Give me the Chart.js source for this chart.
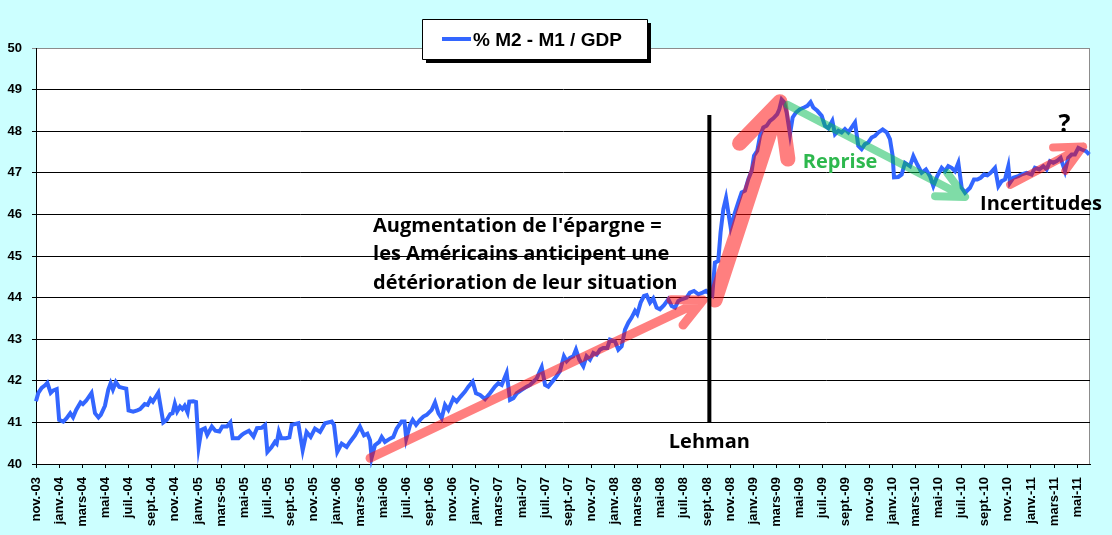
<!DOCTYPE html>
<html>
<head>
<meta charset="utf-8">
<script src="https://cdn.jsdelivr.net/npm/chart.js@4.4.1/dist/chart.umd.min.js"></script>
<style>
  body { margin: 0; background: #ccffff; }
  canvas { display: block; }
</style>
</head>
<body>
<canvas id="graph" width="1112" height="535"></canvas>
<script>
// mois écoulés depuis nov. 2003 (0 = nov.-03)
const mois = [
  0, 0.2, 0.49, 0.78, 0.98, 1.27, 1.5, 1.79, 2, 2.36,
  2.65, 2.96, 3.2, 3.47, 3.85, 4.05, 4.33, 4.8, 5.1, 5.4,
  5.6, 5.96, 6.25, 6.45, 6.65, 6.9, 7.2, 7.5, 7.8, 8,
  8.4, 8.75, 9, 9.4, 9.65, 9.9, 10.1, 10.57, 11, 11.3,
  11.6, 11.8, 12, 12.2, 12.45, 12.65, 12.85, 13.1, 13.25, 13.6,
  13.83, 14.06, 14.3, 14.6, 14.8, 15.2, 15.5, 15.85, 16.1, 16.5,
  16.8, 17, 17.5, 17.8, 18, 18.4, 18.8, 19.1, 19.5, 19.8,
  20, 20.35, 20.65, 20.8, 20.99, 21.2, 21.6, 21.9, 22.1, 22.67,
  23.05, 23.39, 23.74, 24.11, 24.55, 24.98, 25.56, 25.76, 26.04, 26.42,
  26.85, 27.14, 27.57, 28, 28.35, 28.64, 28.87, 29.01, 29.3, 29.67,
  29.88, 30.16, 30.6, 30.88, 31.17, 31.6, 31.85, 32, 32.33, 32.56,
  32.85, 33.19, 33.48, 33.77, 34.2, 34.49, 34.78, 35.06, 35.35, 35.64,
  36.07, 36.36, 36.7, 37.08, 37.37, 37.74, 38.03, 38.38, 38.81, 39.24,
  39.67, 39.96, 40.25, 40.68, 40.97, 41.26, 41.55, 41.98, 42.41, 42.7,
  43.28, 43.71, 44, 44.28, 44.86, 45.29, 45.63, 45.87, 46.15, 46.44,
  46.67, 46.96, 47.31, 47.59, 47.88, 48.17, 48.46, 48.75, 49.03, 49.38,
  49.61, 50.04, 50.33, 50.62, 50.91, 51.2, 51.48, 51.77, 51.97, 52.26,
  52.55, 52.78, 53.07, 53.35, 53.64, 53.93, 54.28, 54.65, 54.94, 55.23,
  55.52, 55.8, 56.24, 56.52, 56.87, 57.25, 57.62, 57.91, 58.2, 58.45,
  58.68, 58.97, 59.17, 59.41, 59.64, 60.04, 60.42, 60.7, 60.99, 61.28,
  61.57, 61.86, 62.06, 62.34, 62.58, 62.86, 63.15, 63.44, 63.73, 64.07,
  64.25, 64.45, 64.65, 64.88, 65.17, 65.4, 65.69, 66.03, 66.38, 66.67,
  66.95, 67.18, 67.53, 67.91, 68.19, 68.48, 68.83, 69.06, 69.35, 69.63,
  69.92, 70.21, 70.5, 70.79, 71.07, 71.36, 71.65, 71.94, 72.23, 72.52,
  72.81, 73.18, 73.53, 73.81, 74.04, 74.16, 74.53, 74.82, 75.11, 75.54,
  75.83, 76.17, 76.55, 76.92, 77.27, 77.56, 77.9, 78.28, 78.57, 78.85,
  79.14, 79.43, 79.72, 80.01, 80.3, 80.73, 81.07, 81.36, 81.65, 81.94,
  82.23, 82.51, 82.89, 83.18, 83.46, 83.75, 84.04, 84.18, 84.47, 84.9,
  85.19, 85.62, 86.05, 86.34, 86.72, 87.06, 87.35, 87.64, 87.93, 88.22,
  88.56, 88.94, 89.22, 89.51, 89.8, 90.09, 90.38, 90.75, 91.04
];

// % (M2 - M1) / PIB
const ratio = [
  41.51, 41.71, 41.83, 41.89, 41.95, 41.71, 41.77, 41.8, 41.06, 41.02,
  41.1, 41.22, 41.12, 41.3, 41.48, 41.44, 41.52, 41.71, 41.22, 41.12,
  41.18, 41.4, 41.79, 41.94, 41.79, 41.97, 41.85, 41.83, 41.81, 41.29,
  41.26, 41.29, 41.32, 41.44, 41.42, 41.56, 41.5, 41.71, 41.0, 41.06,
  41.2, 41.22, 41.45, 41.26, 41.38, 41.32, 41.4, 41.24, 41.5, 41.51,
  41.49, 40.41, 40.82, 40.86, 40.7, 40.9, 40.8, 40.78, 40.9, 40.9,
  41.0, 40.62, 40.62, 40.7, 40.74, 40.8, 40.66, 40.86, 40.87, 40.94,
  40.29, 40.4, 40.53, 40.49, 40.78, 40.62, 40.62, 40.64, 40.94, 40.98,
  40.33, 40.77, 40.65, 40.85, 40.77, 40.98, 41.02, 40.94, 40.29, 40.49,
  40.41, 40.53, 40.69, 40.9, 40.69, 40.73, 40.57, 40.15, 40.45, 40.53,
  40.65, 40.53, 40.61, 40.65, 40.85, 41.02, 41.02, 40.61, 40.94, 41.06,
  40.94, 41.06, 41.14, 41.18, 41.3, 41.48, 41.22, 41.1, 41.42, 41.3,
  41.58, 41.5, 41.62, 41.74, 41.86, 41.98, 41.7, 41.66, 41.56, 41.7,
  41.86, 41.94, 41.9, 42.19, 41.54, 41.58, 41.7, 41.78, 41.86, 41.9,
  42.06, 42.33, 41.9, 41.86, 42.06, 42.23, 42.59, 42.47, 42.55, 42.59,
  42.75, 42.51, 42.35, 42.59, 42.51, 42.67, 42.63, 42.75, 42.79, 42.79,
  42.99, 42.95, 42.75, 42.83, 43.23, 43.4, 43.52, 43.68, 43.6, 43.88,
  44.04, 44.06, 43.88, 43.98, 43.76, 43.72, 43.82, 43.96, 43.8, 43.76,
  43.92, 43.96, 44.0, 44.12, 44.16, 44.08, 44.12, 44.16, 44.1, 44.05,
  44.84, 44.88, 45.57, 46.13, 46.4, 45.69, 46.05, 46.29, 46.53, 46.57,
  46.85, 47.05, 47.41, 47.53, 47.89, 48.09, 48.13, 48.25, 48.31, 48.41,
  48.53, 48.76, 48.7, 48.45, 47.93, 48.33, 48.45, 48.53, 48.57, 48.61,
  48.7, 48.57, 48.49, 48.37, 48.13, 48.07, 48.25, 47.93, 48.01, 47.97,
  48.05, 47.97, 48.09, 48.21, 47.65, 47.57, 47.69, 47.73, 47.85, 47.89,
  47.97, 48.04, 47.97, 47.81, 47.41, 46.89, 46.9, 46.96, 47.24, 47.16,
  47.4, 47.2, 47.0, 47.08, 46.92, 46.68, 46.92, 47.12, 47.04, 47.16,
  47.12, 47.04, 47.24, 46.64, 46.52, 46.64, 46.84, 46.84, 46.88, 46.96,
  46.94, 47.0, 47.12, 46.68, 46.8, 46.84, 47.16, 46.76, 46.88, 46.92,
  46.96, 47.0, 46.96, 47.12, 47.08, 47.16, 47.08, 47.28, 47.24, 47.28,
  47.36, 47.04, 47.36, 47.44, 47.44, 47.6, 47.56, 47.52, 47.44
];

const etiquettesMois = [
  "nov.-03", "janv.-04", "mars-04", "mai-04", "juil.-04", "sept.-04",
  "nov.-04", "janv.-05", "mars-05", "mai-05", "juil.-05", "sept.-05",
  "nov.-05", "janv.-06", "mars-06", "mai-06", "juil.-06", "sept.-06",
  "nov.-06", "janv.-07", "mars-07", "mai-07", "juil.-07", "sept.-07",
  "nov.-07", "janv.-08", "mars-08", "mai-08", "juil.-08", "sept.-08",
  "nov.-08", "janv.-09", "mars-09", "mai-09", "juil.-09", "sept.-09",
  "nov.-09", "janv.-10", "mars-10", "mai-10", "juil.-10", "sept.-10",
  "nov.-10", "janv.-11", "mars-11", "mai-11"
];

const serieNom = "% M2 - M1 / GDP";

// annotations (en unités du graphique : mois, %)
const fleches = [
  { de: [28.87, 40.14], a: [57.65, 43.94], largeur: 9, tete: 32, couleur: "rgba(255,0,0,0.5)" },
  { de: [58.69, 43.94], a: [64.3, 48.71], largeur: 15, tete: 58, couleur: "rgba(255,0,0,0.5)" },
  { de: [65.0, 48.63], a: [80.3, 46.42], largeur: 8, tete: 30, couleur: "rgba(0,185,80,0.5)" },
  { de: [84.2, 46.71], a: [90.5, 47.63], largeur: 8, tete: 30, couleur: "rgba(255,0,0,0.5)" }
];

const textes = [
  { t: "Augmentation de l'épargne =", pos: [29.13, 45.58], align: "left", couleur: "#000", taille: 20 },
  { t: "les Américains anticipent une", pos: [29.13, 44.9], align: "left", couleur: "#000", taille: 20 },
  { t: "détérioration de leur situation", pos: [29.13, 44.21], align: "left", couleur: "#000", taille: 20 },
  { t: "Lehman", pos: [58.2, 40.38], align: "center", couleur: "#000", taille: 20 },
  { t: "Reprise", pos: [69.5, 47.11], align: "center", couleur: "#2eb84e", taille: 20 },
  { t: "Incertitudes", pos: [81.6, 46.1], align: "left", couleur: "#000", taille: 20 },
  { t: "?", pos: [88.9, 47.99], align: "center", couleur: "#000", taille: 25 }
];

const lehman = { mois: 58.2, de: 41.0, a: 48.39 };

const points = mois.map((m, i) => ({ x: m, y: ratio[i] }));

function fleche(ctx, x1, y1, x2, y2, largeur, tete, couleur) {
  const a = Math.atan2(y1 - y2, x1 - x2);
  const ang = 26 * Math.PI / 180;
  ctx.beginPath();
  ctx.moveTo(x1, y1);
  ctx.lineTo(x2, y2);
  ctx.moveTo(x2 + tete * Math.cos(a + ang), y2 + tete * Math.sin(a + ang));
  ctx.lineTo(x2, y2);
  ctx.lineTo(x2 + tete * Math.cos(a - ang), y2 + tete * Math.sin(a - ang));
  ctx.strokeStyle = couleur;
  ctx.lineWidth = largeur;
  ctx.lineCap = "round";
  ctx.lineJoin = "round";
  ctx.stroke();
}

const fondPlugin = {
  id: "fond",
  beforeDraw(chart) {
    const { ctx, chartArea: a } = chart;
    ctx.save();
    ctx.fillStyle = "#ccffff";
    ctx.fillRect(0, 0, chart.width, chart.height);
    ctx.fillStyle = "#ffffff";
    ctx.fillRect(a.left, a.top, a.right - a.left, a.bottom - a.top);
    ctx.strokeStyle = "#8c8c8c";
    ctx.lineWidth = 1;
    ctx.strokeRect(a.left + 0.5, a.top + 0.5, a.right - a.left - 1, a.bottom - a.top);
    ctx.restore();
  }
};

const annotPlugin = {
  id: "annotations",
  afterDraw(chart) {
    const ctx = chart.ctx;
    const sx = chart.scales.x, sy = chart.scales.y;
    ctx.save();

    fleches.forEach((f) => {
      fleche(ctx, sx.getPixelForValue(f.de[0]), sy.getPixelForValue(f.de[1]),
        sx.getPixelForValue(f.a[0]), sy.getPixelForValue(f.a[1]), f.largeur, f.tete, f.couleur);
    });

    // trait Lehman
    const xl = sx.getPixelForValue(lehman.mois);
    ctx.beginPath();
    ctx.moveTo(xl, sy.getPixelForValue(lehman.de));
    ctx.lineTo(xl, sy.getPixelForValue(lehman.a));
    ctx.strokeStyle = "#000";
    ctx.lineWidth = 4;
    ctx.lineCap = "butt";
    ctx.stroke();

    ctx.textBaseline = "alphabetic";
    textes.forEach((t) => {
      ctx.font = "bold " + t.taille + "px 'Open Sans'";
      ctx.fillStyle = t.couleur;
      ctx.textAlign = t.align;
      ctx.fillText(t.t, sx.getPixelForValue(t.pos[0]), sy.getPixelForValue(t.pos[1]));
    });

    // légende
    const lx = 422, ly = 19, lw = 225, lh = 40;
    ctx.fillStyle = "#000";
    ctx.fillRect(lx + 4, ly + 4, lw, lh);
    ctx.fillStyle = "#fff";
    ctx.fillRect(lx, ly, lw, lh);
    ctx.strokeStyle = "#000";
    ctx.lineWidth = 1;
    ctx.strokeRect(lx + 0.5, ly + 0.5, lw, lh);
    ctx.beginPath();
    ctx.moveTo(lx + 20, ly + 20);
    ctx.lineTo(lx + 49, ly + 20);
    ctx.strokeStyle = chart.data.datasets[0].borderColor;
    ctx.lineWidth = 4;
    ctx.stroke();
    ctx.fillStyle = "#000";
    ctx.textAlign = "left";
    ctx.font = "bold 19px 'Liberation Sans'";
    ctx.fillText(chart.data.datasets[0].label, lx + 51, ly + 27);

    ctx.restore();
  }
};

new Chart(document.getElementById("graph"), {
  type: "line",
  data: {
    datasets: [
      {
        label: serieNom,
        data: points,
        borderColor: "#3366ff",
        borderWidth: 4,
        pointRadius: 0,
        tension: 0,
        clip: 4
      }
    ]
  },
  options: {
    responsive: false,
    animation: false,
    layout: { padding: { top: 48, right: 22, left: 0, bottom: 0 } },
    plugins: {
      legend: { display: false },
      tooltip: { enabled: false }
    },
    scales: {
      x: {
        type: "linear",
        min: 0,
        max: 91.1,
        afterBuildTicks: (s) => {
          s.ticks = etiquettesMois.map((_, i) => ({ value: i * 2 }));
        },
        afterFit: (s) => { s.height = 71; },
        ticks: {
          autoSkip: false,
          minRotation: 90,
          maxRotation: 90,
          padding: 9,
          color: "#000",
          font: { family: "'Liberation Sans', Arial, sans-serif", size: 13, weight: "bold" },
          callback: (v) => etiquettesMois[Math.round(v / 2)]
        },
        grid: { drawOnChartArea: false, tickLength: 4, color: "#000" },
        border: { color: "#000", width: 1 }
      },
      y: {
        min: 40,
        max: 50,
        afterFit: (s) => { s.width = 36; },
        ticks: {
          stepSize: 1,
          padding: 10,
          color: "#000",
          font: { family: "'Liberation Sans', Arial, sans-serif", size: 13, weight: "bold" }
        },
        grid: {
          tickLength: 4,
          color: (c) => (c.tick && c.tick.value === 50 ? "#8c8c8c" : "#000")
        },
        border: { color: "#000", width: 1 }
      }
    }
  },
  plugins: [fondPlugin, annotPlugin]
});
</script>
</body>
</html>
